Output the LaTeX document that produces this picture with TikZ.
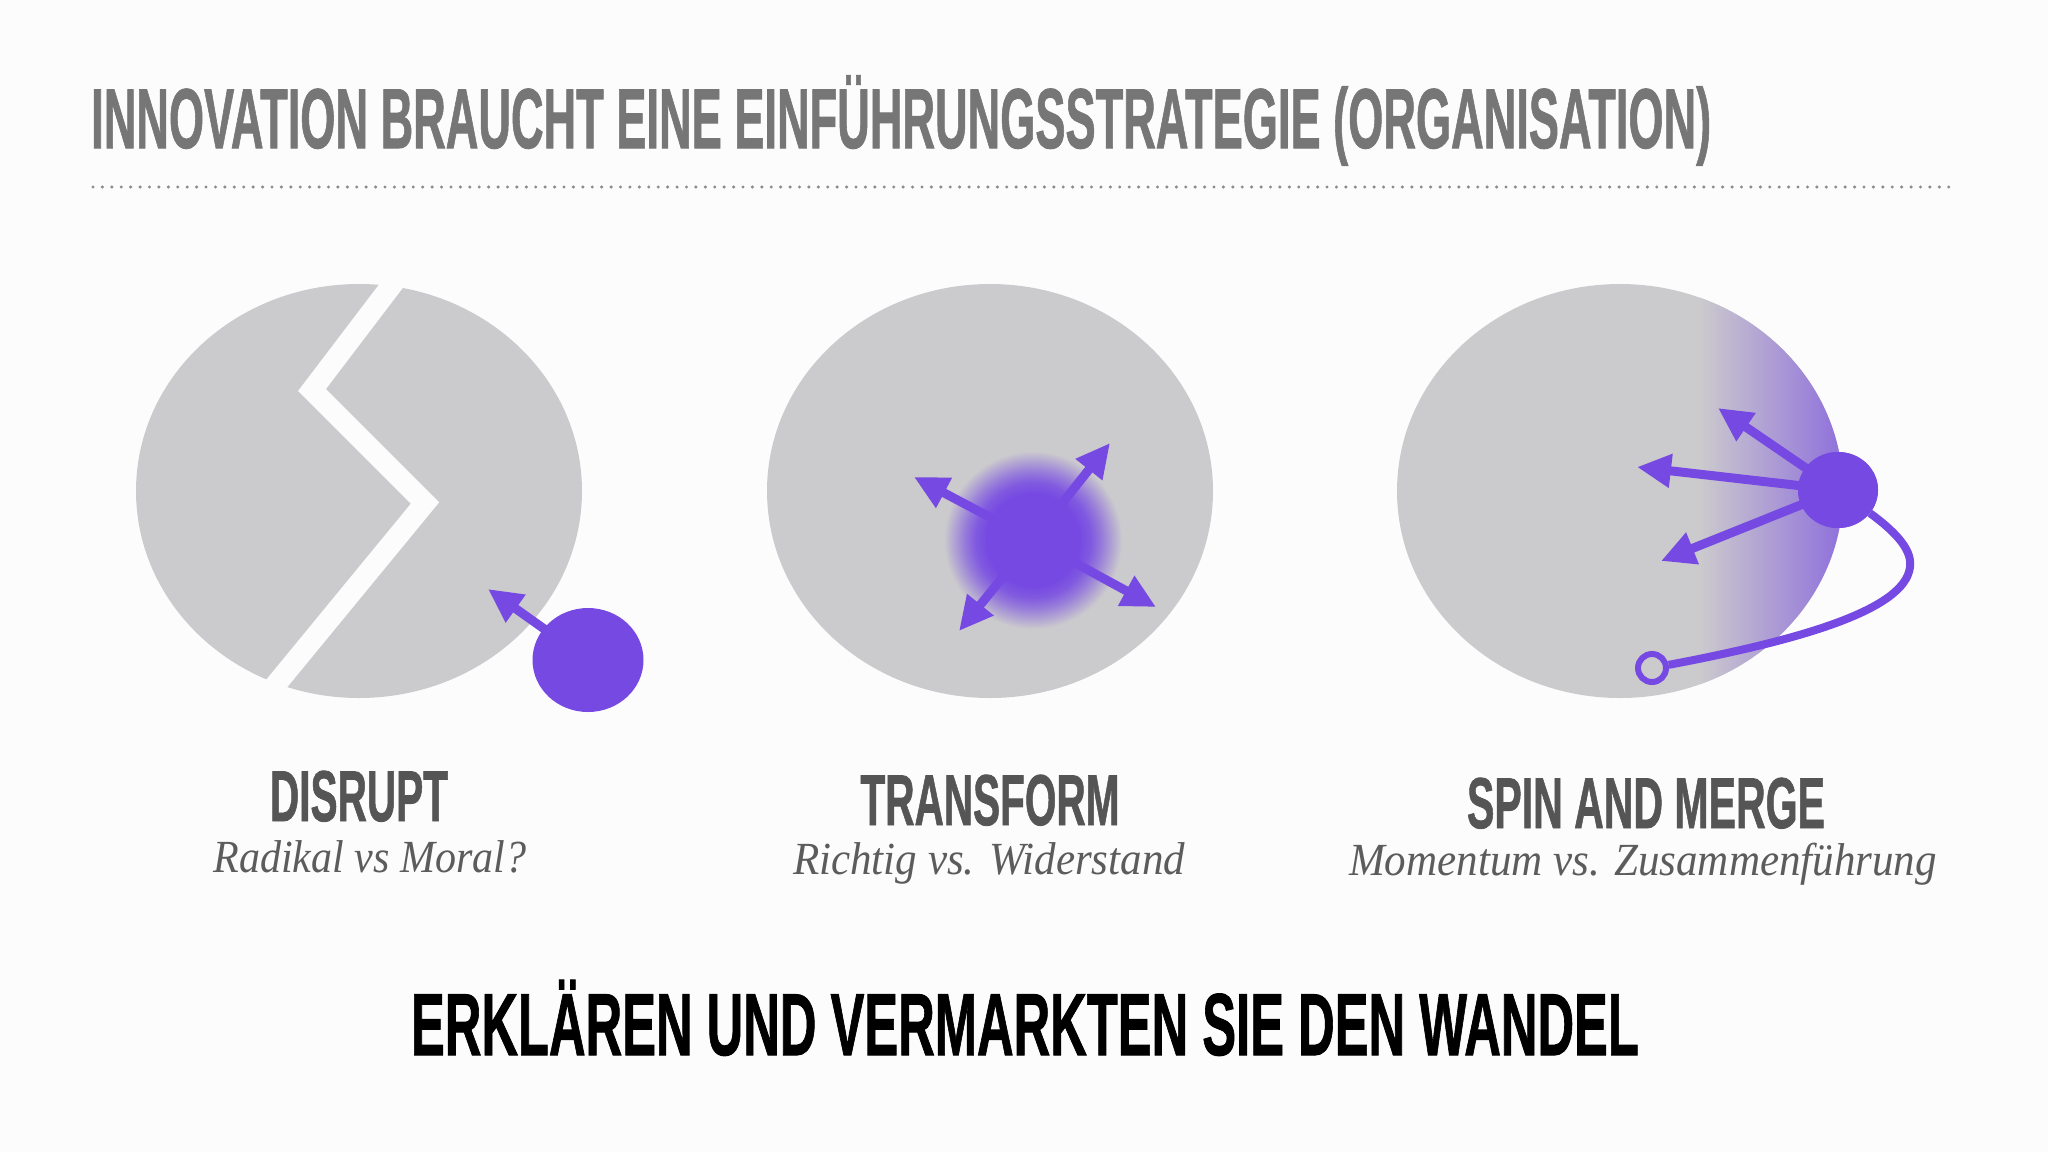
\documentclass[tikz,border=0pt]{standalone}
\usepackage{fontspec}
\usepackage{graphicx}
\usetikzlibrary{arrows.meta,shapes.geometric}
\setmainfont{Liberation Serif}
\newfontfamily\din[BoldFeatures={FakeBold=1.2}]{Liberation Sans}
\definecolor{cgray}{RGB}{203,202,205}
\definecolor{purp}{RGB}{118,74,226}
\definecolor{titlegray}{RGB}{118,118,118}
\definecolor{labgray}{RGB}{85,85,85}
\definecolor{subgray}{RGB}{92,92,92}
\definecolor{dotgray}{RGB}{140,140,140}
\definecolor{bgcol}{RGB}{253,252,253}
\pgfdeclareradialshading{blob}{\pgfpointorigin}{color(0bp)=(purp); color(13bp)=(purp); color(16bp)=(purp!88!cgray); color(19bp)=(purp!62!cgray); color(22bp)=(purp!30!cgray); color(24.7bp)=(cgray); color(50bp)=(cgray)}
\tikzset{
  arr/.style={purp, line width=9pt, -{Triangle[length=34pt,width=32pt]}},
  disc/.style={ellipse, fill=purp, inner sep=0pt},
  bigcirc/.style={cgray},
  headtxt/.style={anchor=base, inner sep=0pt, text=labgray},
  subtxt/.style={anchor=base, inner sep=0pt, text=subgray},
}
\newcommand{\headfont}{\fontsize{72}{80}\selectfont\din\bfseries}
\newcommand{\subfont}{\fontsize{46}{52}\selectfont\itshape}
\begin{document}
\begin{tikzpicture}[x=1pt,y=-1pt]
\fill[bgcol] (0,0) rectangle (2048,1152);
\useasboundingbox (0,0) rectangle (2048,1152);

% title
\node[anchor=base west, inner sep=0pt, text=titlegray] (title) at (91,148)
  {\resizebox{1620pt}{\height}{\fontsize{85}{90}\selectfont\din\bfseries INNOVATION BRAUCHT EINE EINFÜHRUNGSSTRATEGIE (ORGANISATION)}};
\coordinate (ruleL) at (93,187);
\coordinate (ruleR) at (1958,187);
\draw[dotgray, line width=3.4pt, line cap=round, dash pattern=on 0pt off 9.42pt] (ruleL) -- (ruleR);

% ---- circle 1: disrupt
\fill[bigcirc] (359,491) ellipse [x radius=223pt, y radius=207pt];
\draw[bgcol, line width=21pt, line join=miter] (404,269) -- (312,390) -- (425,503) -- (259,705);
\node[disc, minimum width=111pt, minimum height=104pt] (d1) at (588,660) {};
\coordinate (t1) at (488,589);
\draw[arr] (d1.center) -- (t1);

% ---- circle 2: transform
\fill[bigcirc] (990,491) ellipse [x radius=223pt, y radius=207pt];
\shade[shading=blob] (1033,540) circle [radius=90pt];
\coordinate (b2) at (1033,540);
\coordinate (t2a) at (1110,443);
\coordinate (t2b) at (914,477);
\coordinate (t2c) at (959,631);
\coordinate (t2d) at (1156,607);
\foreach \t in {t2a,t2b,t2c,t2d} \draw[arr, shorten <=30pt] (b2) -- (\t);

% ---- circle 3: spin and merge
\fill[bigcirc] (1620,491) ellipse [x radius=223pt, y radius=207pt];
\begin{scope}
  \clip (1620,491) ellipse [x radius=223pt, y radius=207pt];
  \shade[left color=cgray, right color=purp!72!cgray] (1700,270) rectangle (1846,712);
\end{scope}
\coordinate (t3a) at (1718,408);
\coordinate (t3b) at (1637,467);
\coordinate (t3c) at (1661,561);
\node[disc, minimum width=80pt, minimum height=76pt] (d3) at (1838,490) {};
\foreach \t in {t3a,t3b,t3c} \draw[arr] (d3.center) -- (\t);
\node[disc, minimum width=80pt, minimum height=76pt] at (d3) {};
\node[circle, draw=purp, line width=6pt, fill=cgray, minimum size=28pt, inner sep=0pt] (oc) at (1652,668) {};
\draw[purp, line width=8pt] (d3) .. controls (1900,535) and (1912,552) .. (1910,567)
   .. controls (1905,610) and (1800,640) .. (oc);

% ---- labels
\node[headtxt] (l1) at (359,821) {\resizebox{178pt}{\height}{\headfont DISRUPT}};
\node[subtxt] (s1) at (370,872) {\resizebox{313pt}{\height}{\subfont Radikal vs Moral?}};
\node[headtxt] (l2) at (990,825) {\resizebox{259pt}{\height}{\headfont TRANSFORM}};
\node[subtxt] (s2) at (989,874) {\resizebox{392pt}{\height}{\subfont Richtig vs. Widerstand}};
\node[headtxt] (l3) at (1646,828) {\resizebox{358pt}{\height}{\headfont SPIN AND MERGE}};
\node[subtxt] (s3) at (1643,875) {\resizebox{588pt}{\height}{\subfont Momentum vs. Zusammenführung}};

% bottom line
\node[anchor=base, inner sep=0pt, text=black] (bottom) at (1025,1055)
  {\resizebox{1228pt}{\height}{\fontsize{88}{95}\selectfont\din\bfseries ERKLÄREN UND VERMARKTEN SIE DEN WANDEL}};
\end{tikzpicture}
\end{document}
